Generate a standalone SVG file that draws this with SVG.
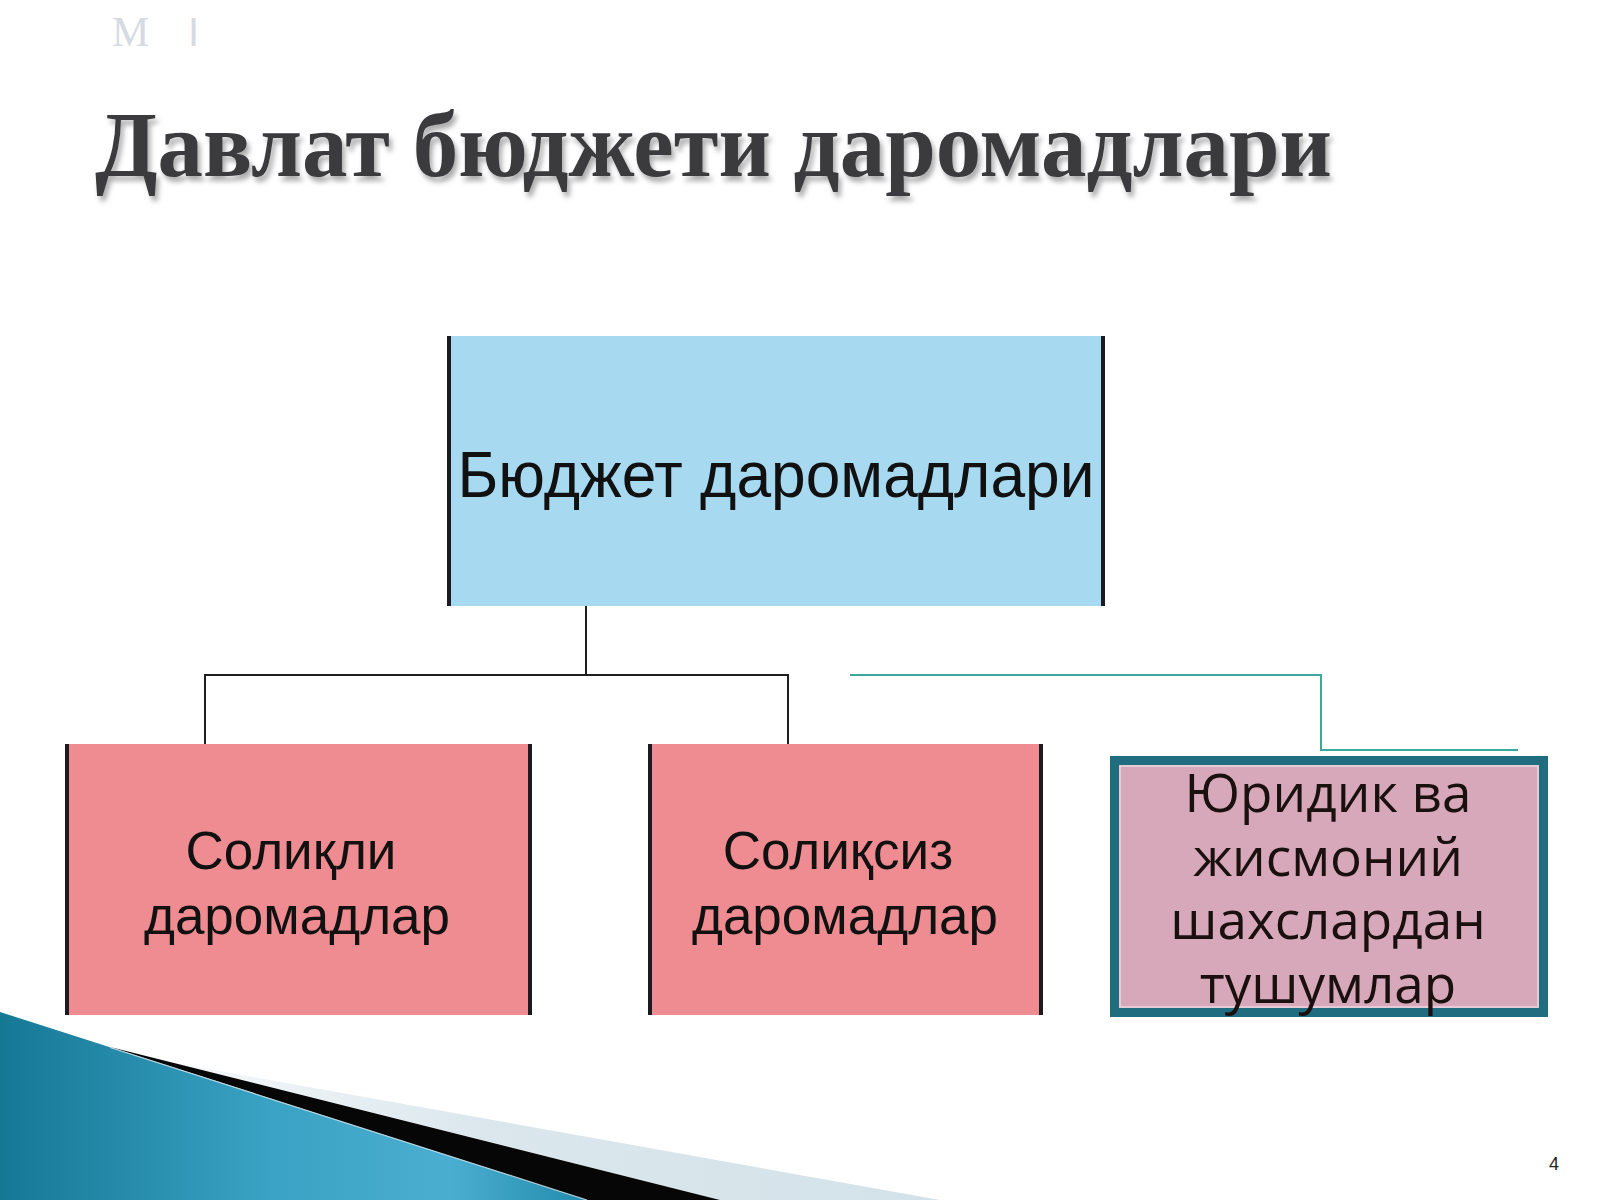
<svg xmlns="http://www.w3.org/2000/svg" width="1600" height="1200" viewBox="0 0 1600 1200">
  <defs>
    <style>
      .lbl { font-family: "Liberation Sans", Arial, sans-serif; font-size: 53px; fill: #111; text-anchor: middle; }
      .lbl2 { font-family: "Open Sans", "Liberation Sans", sans-serif; font-size: 53px; fill: #1a1010; text-anchor: middle; }
      .big { font-size: 64px; }
      .edge { stroke: #1b1b22; stroke-width: 4; }
      .conn { fill: none; stroke: #1e1e1e; stroke-width: 2; }
      .conn2 { fill: none; stroke: #3aa89c; stroke-width: 2; }
    </style>
    <linearGradient id="teal" gradientUnits="userSpaceOnUse" x1="0" y1="0" x2="600" y2="0">
      <stop offset="0" stop-color="#157895"/>
      <stop offset="0.45" stop-color="#3aa2c4"/>
      <stop offset="0.75" stop-color="#4aaed0"/>
      <stop offset="1" stop-color="#1f88aa"/>
    </linearGradient>
    <linearGradient id="pale" gradientUnits="userSpaceOnUse" x1="180" y1="0" x2="940" y2="0">
      <stop offset="0" stop-color="#f4f8fa"/>
      <stop offset="0.4" stop-color="#dbe7ed"/>
      <stop offset="1" stop-color="#d3e2e9"/>
    </linearGradient>
    <filter id="sh" x="-5%" y="-20%" width="110%" height="150%">
      <feDropShadow dx="3" dy="5" stdDeviation="2.5" flood-color="#8a8a8a" flood-opacity="0.7"/>
    </filter>
  </defs>

  <rect x="0" y="0" width="1600" height="1200" fill="#ffffff"/>

  <!-- faint top-left text -->
  <text x="112" y="46" font-family="Liberation Serif, serif" font-size="42" fill="#d6dae2">M</text>
  <text x="188" y="46" font-family="Liberation Sans, sans-serif" font-size="40" fill="#d6dae2">I</text>

  <!-- title -->
  <g id="title">
    <text x="95" y="176" font-family="'Liberation Serif', 'Times New Roman', serif" font-weight="bold" font-size="94" fill="#3a3a3c" textLength="1237" lengthAdjust="spacingAndGlyphs" filter="url(#sh)">Давлат бюджети даромадлари</text>
  </g>

  <!-- bottom-left decoration -->
  <g id="decoration">
    <polygon points="180,1064 940,1200 720,1200" fill="url(#pale)"/>
    <polygon points="0,1012 587,1200 0,1200" fill="url(#teal)"/>
    <polygon points="110,1047 720,1200 587,1200" fill="#060606"/>
    <line x1="110" y1="1047.5" x2="587" y2="1200" stroke="#cfe6ef" stroke-width="1.2" opacity="0.8"/>
  </g>

  <!-- connectors -->
  <g id="connectors">
    <polyline class="conn" points="586,606 586,675"/>
    <polyline class="conn" points="205,744 205,675 788,675 788,744"/>
    <polyline class="conn2" points="850,675 1321,675 1321,750 1518,750"/>
  </g>

  <!-- nodes -->
  <g id="node-budget">
    <rect x="449" y="336" width="654" height="270" fill="#a7daf1"/>
    <line class="edge" x1="449" y1="336" x2="449" y2="606"/>
    <line class="edge" x1="1103" y1="336" x2="1103" y2="606"/>
    <text class="lbl big" x="776" y="497" textLength="637" lengthAdjust="spacingAndGlyphs">Бюджет даромадлари</text>
  </g>

  <g id="node-tax">
    <rect x="67" y="744" width="463" height="271" fill="#ef8c91"/>
    <line class="edge" x1="67" y1="744" x2="67" y2="1015" stroke="#2a0c10"/>
    <line class="edge" x1="530" y1="744" x2="530" y2="1015" stroke="#2a0c10"/>
    <text class="lbl" x="291" y="869">Солиқли</text>
    <text class="lbl" x="297" y="934">даромадлар</text>
  </g>

  <g id="node-nontax">
    <rect x="650" y="744" width="391" height="271" fill="#ef8c91"/>
    <line class="edge" x1="650" y1="744" x2="650" y2="1015" stroke="#2a0c10"/>
    <line class="edge" x1="1041" y1="744" x2="1041" y2="1015" stroke="#2a0c10"/>
    <text class="lbl" x="838" y="869">Солиқсиз</text>
    <text class="lbl" x="845" y="934">даромадлар</text>
  </g>

  <g id="node-legal">
    <rect x="1114.5" y="760.5" width="429" height="252" fill="#d6a8b9" stroke="#1f6d7e" stroke-width="9"/>
    <rect x="1120" y="766" width="418" height="241" fill="none" stroke="#e9d6de" stroke-width="1.5"/>
    <text class="lbl2" x="1328" y="812">Юридик ва</text>
    <text class="lbl2" x="1328" y="876">жисмоний</text>
    <text class="lbl2" x="1328" y="939">шахслардан</text>
    <text class="lbl2" x="1328" y="1003">тушумлар</text>
  </g>

  <text x="1549" y="1170" font-family="'Liberation Sans', Arial, sans-serif" font-size="18" fill="#222">4</text>
</svg>
